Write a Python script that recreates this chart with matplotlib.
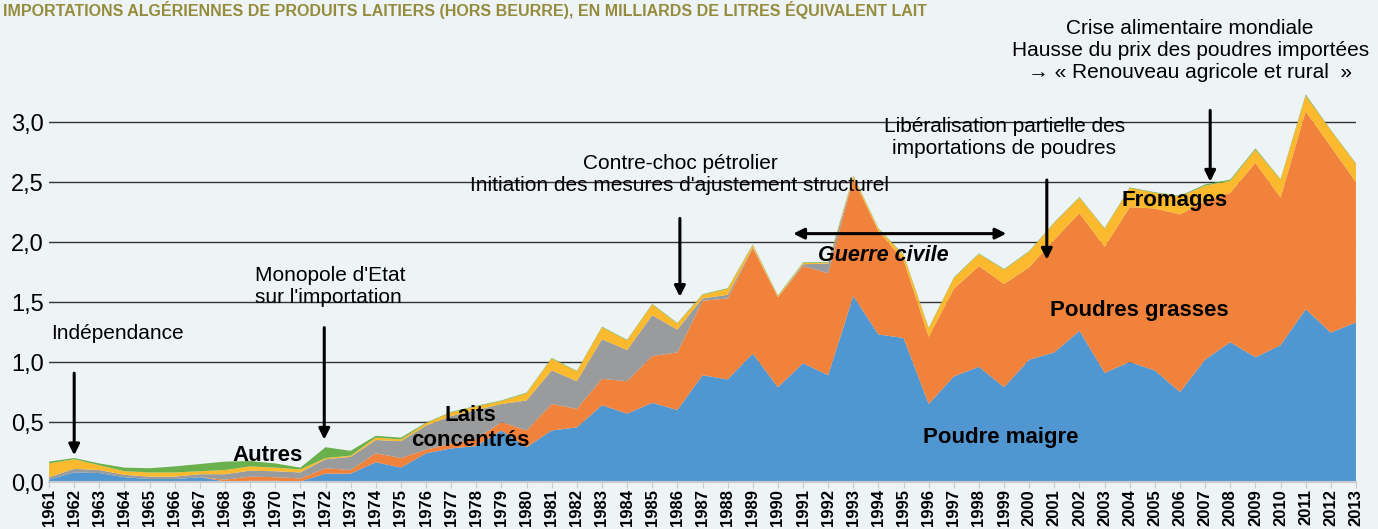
import matplotlib.pyplot as plt
import numpy as np

years = list(range(1961, 2014))

# milliards de litres equivalent lait, par produit
poudre_maigre = [0.02, 0.08, 0.075, 0.04, 0.025, 0.025, 0.04, 0.005, 0.01, 0.01,
                 0.005, 0.07, 0.07, 0.165, 0.12, 0.24, 0.28, 0.30, 0.43, 0.29,
                 0.43, 0.455, 0.64, 0.57, 0.66, 0.60, 0.89, 0.855, 1.07, 0.79,
                 0.99, 0.89, 1.55, 1.23, 1.20, 0.65, 0.88, 0.96, 0.79, 1.02,
                 1.08, 1.26, 0.91, 1.00, 0.93, 0.75, 1.02, 1.165, 1.04, 1.14,
                 1.44, 1.245, 1.33]
poudres_grasses = [0, 0, 0, 0, 0, 0, 0, 0.015, 0.035, 0.03,
                   0.025, 0.045, 0.03, 0.075, 0.08, 0.03, 0.04, 0.06, 0.07, 0.14,
                   0.22, 0.155, 0.22, 0.27, 0.39, 0.48, 0.62, 0.675, 0.88, 0.75,
                   0.81, 0.85, 0.98, 0.86, 0.65, 0.56, 0.73, 0.84, 0.86, 0.77,
                   0.94, 0.98, 1.05, 1.29, 1.35, 1.48, 1.32, 1.245, 1.62, 1.23,
                   1.65, 1.55, 1.17]
laits_concentres = [0.02, 0.03, 0.025, 0.02, 0.02, 0.02, 0.025, 0.045, 0.05, 0.05,
                    0.05, 0.075, 0.11, 0.11, 0.14, 0.20, 0.23, 0.24, 0.15, 0.25,
                    0.28, 0.23, 0.33, 0.26, 0.34, 0.19, 0.02, 0.03, 0.005, 0,
                    0.015, 0.08, 0, 0, 0, 0, 0, 0, 0, 0,
                    0, 0, 0, 0, 0, 0, 0, 0, 0, 0,
                    0, 0, 0]
fromages = [0.115, 0.08, 0.04, 0.03, 0.035, 0.035, 0.025, 0.035, 0.035, 0.03,
            0.025, 0.01, 0.01, 0.02, 0.015, 0.02, 0.03, 0.03, 0.025, 0.06,
            0.10, 0.08, 0.10, 0.08, 0.09, 0.05, 0.03, 0.05, 0.02, 0.01,
            0.01, 0.01, 0.02, 0.02, 0.04, 0.07, 0.09, 0.10, 0.12, 0.13,
            0.14, 0.13, 0.15, 0.16, 0.13, 0.15, 0.13, 0.10, 0.11, 0.15,
            0.13, 0.135, 0.15]
autres = [0.015, 0.01, 0.015, 0.03, 0.035, 0.05, 0.06, 0.07, 0.045, 0.035,
          0.015, 0.09, 0.04, 0.015, 0.015, 0.005, 0.005, 0.005, 0.005, 0.005,
          0.005, 0.005, 0.005, 0.005, 0.005, 0.005, 0.005, 0.005, 0.005, 0.005,
          0.005, 0.005, 0.005, 0.005, 0.005, 0.005, 0.005, 0.005, 0.005, 0.005,
          0.005, 0.005, 0.005, 0.005, 0.005, 0.005, 0.01, 0.01, 0.01, 0.005,
          0.01, 0.005, 0.005]

colors = ['#5096d0', '#f0823c', '#999b9c', '#fbb92e', '#6ab04c']
bg = '#eef3f6'

plt.rcParams['font.family'] = ['Liberation Sans', 'DejaVu Sans']

fig = plt.figure(figsize=(13.78, 5.29), dpi=100, facecolor=bg)
ax = fig.add_axes([0.0356, 0.0888, 0.9484, 0.9112])
ax.set_facecolor(bg)

ax.stackplot(years, poudre_maigre, poudres_grasses, laits_concentres, fromages, autres,
             colors=colors, edgecolor='none', zorder=2)

ax.set_xlim(1961, 2013)
ax.set_ylim(0, 4.017)

for v in [0.5, 1.0, 1.5, 2.0, 2.5, 3.0]:
    ax.axhline(v, color='#333333', lw=1, zorder=1)

ax.set_yticks([0, 0.5, 1.0, 1.5, 2.0, 2.5, 3.0])
ax.set_yticklabels(['0,0', '0,5', '1,0', '1,5', '2,0', '2,5', '3,0'], fontsize=17)
ax.set_xticks(years)
ax.set_xticklabels([str(y) for y in years], rotation=90, fontsize=12, fontweight='bold')
ax.tick_params(axis='y', length=0, pad=4)
ax.tick_params(axis='x', length=4, color='#c8ccd0', pad=1)
for s in ['top', 'right', 'left']:
    ax.spines[s].set_visible(False)
ax.spines['bottom'].set_color('#c8ccd0')
ax.spines['bottom'].set_linewidth(1.5)

fig.text(0.002, 0.97, "IMPORTATIONS ALGÉRIENNES DE PRODUITS LAITIERS (HORS BEURRE), EN MILLIARDS DE LITRES ÉQUIVALENT LAIT",
         fontsize=11.5, fontweight='bold', color='#948c3c', va='baseline', ha='left')

arrow = dict(arrowstyle='-|>', color='black', lw=2.2, mutation_scale=16)
note = dict(fontsize=15, linespacing=1.2, zorder=3)

# evenements
ax.text(1961.1, 1.24, "Indépendance", va='center', ha='left', **note)
ax.annotate('', xy=(1962, 0.2), xytext=(1962, 0.93), arrowprops=arrow)

ax.text(1969.2, 1.63, "Monopole d'Etat\nsur l'importation", va='center', ha='left', **note)
ax.annotate('', xy=(1971.95, 0.33), xytext=(1971.95, 1.31), arrowprops=arrow)

ax.text(1986.1, 2.56, "Contre-choc pétrolier\nInitiation des mesures d'ajustement structurel",
        va='center', ha='center', **note)
ax.annotate('', xy=(1986.1, 1.52), xytext=(1986.1, 2.22), arrowprops=arrow)

ax.text(1994.2, 1.89, "Guerre civile", fontsize=15.5, fontweight='bold', style='italic',
        va='center', ha='center', zorder=4)
ax.annotate('', xy=(1999.2, 2.07), xytext=(1990.5, 2.07),
            arrowprops=dict(arrowstyle='<|-|>', color='black', lw=2.2, mutation_scale=16), zorder=4)

ax.text(1999.0, 2.87, "Libéralisation partielle des\nimportations de poudres",
        va='center', ha='center', **note)
ax.annotate('', xy=(2000.7, 1.83), xytext=(2000.7, 2.54), arrowprops=arrow, zorder=4)

ax.text(2006.4, 3.6, "Crise alimentaire mondiale\nHausse du prix des poudres importées\n→ « Renouveau agricole et rural  »",
        va='center', ha='center', **note)
ax.annotate('', xy=(2007.2, 2.48), xytext=(2007.2, 3.12), arrowprops=arrow, zorder=4)

# noms des produits
lab = dict(fontsize=16, fontweight='bold', va='center', ha='center', zorder=4)
ax.text(1969.7, 0.225, "Autres", **lab)
ax.text(1977.75, 0.45, "Laits\nconcentrés", linespacing=1.2, **lab)
ax.text(2005.8, 2.35, "Fromages", **lab)
ax.text(2004.4, 1.43, "Poudres grasses", **lab)
ax.text(1998.85, 0.37, "Poudre maigre", **lab)

fig.savefig('out.png', dpi=100, facecolor=bg)
